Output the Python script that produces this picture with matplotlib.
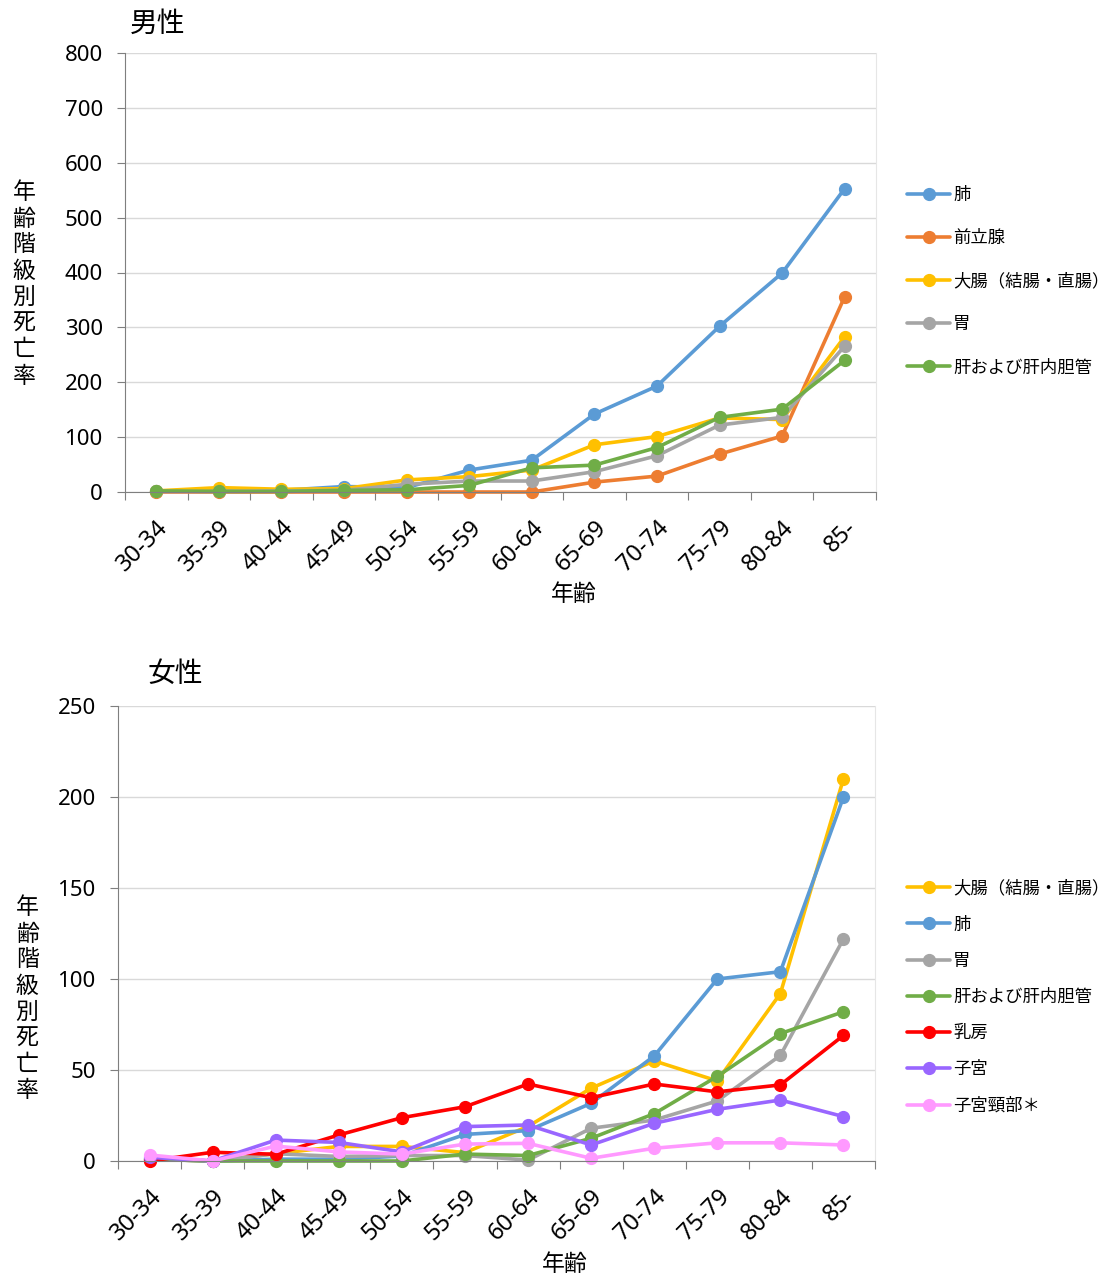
import matplotlib
matplotlib.use('Agg')
import matplotlib.pyplot as plt
from matplotlib.ticker import FixedLocator, NullFormatter

plt.rcParams['font.family'] = ['Noto Sans', 'Noto Sans CJK JP', 'DejaVu Sans']

# 年齢階級
age_groups = ['30-34', '35-39', '40-44', '45-49', '50-54', '55-59',
              '60-64', '65-69', '70-74', '75-79', '80-84', '85-']

# 男性
male_lung = [2, 2, 3, 10, 8, 40, 58, 142, 193, 302, 399, 553]
male_prostate = [0, 0, 0, 0, 0, 0, 0, 18, 29, 69, 102, 356]
male_colon = [2, 8, 5, 6, 22, 28, 40, 86, 101, 135, 132, 283]
male_stomach = [1, 1, 2, 3, 14, 20, 20, 37, 66, 122, 136, 266]
male_liver = [2, 1, 1, 3, 4, 12, 44, 49, 81, 136, 151, 240]

# 女性
female_colon = [1, 0, 4, 8, 8, 4.6, 19, 40, 55, 44, 92, 210]
female_lung = [1, 0, 1, 1, 2.7, 14.6, 16.7, 31.7, 57.7, 100, 104, 200]
female_stomach = [1, 0, 4, 2.5, 3, 3, 0.5, 18, 22.5, 33, 58, 122]
female_liver = [1, 0, 0, 0, 0, 3.8, 3, 12.5, 26, 46.5, 70, 82]
female_breast = [0, 4.8, 3.7, 14.3, 23.8, 29.8, 42.3, 34.8, 42.3, 38, 41.8, 69]
female_uterus = [2, 0, 11.5, 10.2, 5, 18.9, 19.8, 8.8, 20.7, 28.4, 33.5, 24.4]
female_cervix = [3.3, 0, 8.2, 5, 3.8, 9.3, 9.7, 1.5, 7, 10, 10, 8.8]

male_series = [
    ('肺', male_lung, '#5B9BD5'),
    ('前立腺', male_prostate, '#ED7D31'),
    ('大腸（結腸・直腸）', male_colon, '#FFC000'),
    ('胃', male_stomach, '#A5A5A5'),
    ('肝および肝内胆管', male_liver, '#70AD47'),
]
female_series = [
    ('大腸（結腸・直腸）', female_colon, '#FFC000'),
    ('肺', female_lung, '#5B9BD5'),
    ('胃', female_stomach, '#A5A5A5'),
    ('肝および肝内胆管', female_liver, '#70AD47'),
    ('乳房', female_breast, '#FF0000'),
    ('子宮', female_uterus, '#9966FF'),
    ('子宮頸部＊', female_cervix, '#FF99FF'),
]

W, H = 1114, 1277
fig = plt.figure(figsize=(W / 100, H / 100), dpi=100)


def px_axes(left, top, right, bottom):
    return fig.add_axes([left / W, 1 - bottom / H, (right - left) / W, (bottom - top) / H])


def setup(ax, series, ymax, ystep, ylab_pos, xlab_pos, leg_pos, leg_spacing):
    x = list(range(len(age_groups)))
    for name, vals, col in series:
        ax.plot(x, vals, color=col, lw=2.6, marker='o', ms=8.5, label=name,
                solid_capstyle='round', clip_on=False)
    ax.set_xlim(-0.5, len(age_groups) - 0.5)
    ax.set_ylim(0, ymax)
    ax.set_yticks(range(0, ymax + 1, ystep))
    ax.yaxis.grid(True, color='#D9D9D9', lw=1)
    ax.set_axisbelow(True)

    # 区切り目盛り（Excel風）
    ax.xaxis.set_major_locator(FixedLocator([i - 0.5 for i in range(len(age_groups) + 1)]))
    ax.xaxis.set_major_formatter(NullFormatter())
    ax.xaxis.set_minor_locator(FixedLocator(x))
    ax.set_xticklabels(age_groups, minor=True, rotation=45, ha='right',
                       rotation_mode='anchor', fontsize=17)
    ax.tick_params(axis='x', which='major', length=6, color='#7F7F7F')
    ax.tick_params(axis='x', which='minor', length=0, pad=17)
    ax.tick_params(axis='y', length=6, color='#7F7F7F', labelsize=16, pad=10)

    ax.spines['top'].set_visible(False)
    ax.spines['right'].set_color('#E6E6E6')
    ax.spines['left'].set_color('#7F7F7F')
    ax.spines['bottom'].set_color('#7F7F7F')

    ax.set_ylabel('\n'.join('年齢階級別死亡率'), rotation=0, fontsize=16.5,
                  linespacing=1.12, va='center', ha='center')
    ax.yaxis.set_label_coords(*ylab_pos)
    ax.set_xlabel('年齢', fontsize=16.5, va='center')
    ax.xaxis.set_label_coords(*xlab_pos)

    ax.legend(loc='center left', bbox_to_anchor=leg_pos, bbox_transform=fig.transFigure,
              frameon=False, fontsize=12.5, handlelength=2.5, handletextpad=0.15,
              labelspacing=leg_spacing, borderpad=0, borderaxespad=0)


ax1 = px_axes(125, 53, 876, 492)
setup(ax1, male_series, 800, 100, (-0.1345, 0.4715), (0.598, -0.2346),
      (907 / W, 1 - 281 / H), 1.45)
fig.text(130 / W, 1 - 25 / H, '男性', fontsize=20, va='center', ha='left')

ax2 = px_axes(118, 706, 875, 1161)
setup(ax2, female_series, 250, 50, (-0.120, 0.354), (0.59, -0.2286),
      (907 / W, 1 - 997 / H), 1.05)
fig.text(148 / W, 1 - 675 / H, '女性', fontsize=20, va='center', ha='left')

fig.savefig('out.png', dpi=100)
